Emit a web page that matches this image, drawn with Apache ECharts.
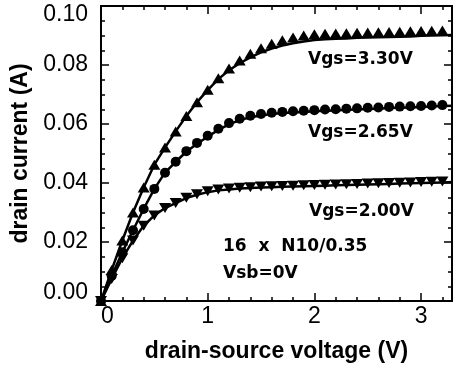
<!DOCTYPE html>
<html><head><meta charset="utf-8">
<script src="https://cdn.jsdelivr.net/npm/echarts@6/dist/echarts.min.js"></script>
<style>html,body{margin:0;padding:0;background:#fff}#c{width:453px;height:368px}</style>
</head><body><div id="c"></div>
<script>
// drain-source voltage (V)
const vds = [0.0,0.1,0.2,0.3,0.4,0.5,0.6,0.7,0.8,0.9,1.0,1.1,1.2,1.3,1.4,1.5,1.6,1.7,1.8,1.9,2.0,2.1,2.2,2.3,2.4,2.5,2.6,2.7,2.8,2.9,3.0,3.1,3.2,3.3];
// measured drain current (A)
const idVgs330 = [0.0000,0.0105,0.0205,0.0300,0.0385,0.0462,0.0520,0.0575,0.0627,0.0674,0.0716,0.0755,0.0788,0.0815,0.0838,0.0857,0.0872,0.0884,0.0893,0.0900,0.0904,0.0906,0.0907,0.0908,0.0909,0.0910,0.0911,0.0912,0.0913,0.0914,0.0915,0.0916,0.0917,0.0918];
const idVgs265 = [0.0000,0.0085,0.0165,0.0240,0.0312,0.0380,0.0435,0.0472,0.0508,0.0536,0.0560,0.0584,0.0603,0.0618,0.0628,0.0634,0.0638,0.0641,0.0643,0.0645,0.0647,0.0649,0.0650,0.0652,0.0653,0.0655,0.0656,0.0658,0.0659,0.0660,0.0661,0.0663,0.0664,0.0665];
const idVgs200 = [0.0000,0.0075,0.0145,0.0205,0.0255,0.0290,0.0315,0.0332,0.0350,0.0362,0.0372,0.0378,0.0381,0.0384,0.0386,0.0388,0.0389,0.0390,0.0391,0.0392,0.0393,0.0394,0.0395,0.0396,0.0397,0.0398,0.0399,0.0400,0.0401,0.0402,0.0403,0.0404,0.0405,0.0406];
// simulated drain current (A)
const simVgs330 = [0.0000,0.0105,0.0205,0.0300,0.0385,0.0462,0.0520,0.0575,0.0627,0.0674,0.0715,0.0752,0.0782,0.0806,0.0826,0.0843,0.0856,0.0866,0.0874,0.0880,0.0885,0.0887,0.0889,0.0890,0.0892,0.0893,0.0894,0.0895,0.0896,0.0897,0.0899,0.0900,0.0901,0.0902];
const simVgs265 = [0.0000,0.0085,0.0165,0.0240,0.0312,0.0380,0.0435,0.0472,0.0506,0.0533,0.0557,0.0580,0.0599,0.0613,0.0623,0.0629,0.0634,0.0637,0.0639,0.0641,0.0643,0.0645,0.0646,0.0648,0.0649,0.0651,0.0652,0.0654,0.0655,0.0656,0.0658,0.0659,0.0661,0.0662];
const simVgs200 = [0.0000,0.0075,0.0145,0.0205,0.0255,0.0290,0.0315,0.0332,0.0349,0.0360,0.0369,0.0375,0.0378,0.0381,0.0383,0.0385,0.0386,0.0387,0.0388,0.0389,0.0390,0.0391,0.0392,0.0393,0.0394,0.0395,0.0396,0.0397,0.0398,0.0399,0.0400,0.0401,0.0402,0.0403];
// axis ticks
const xMajorTicks = [0,1,2,3];
const xMinorTicks = [0.2,0.4,0.6,0.8,1.2,1.4,1.6,1.8,2.2,2.4,2.6,2.8,3.2];
const xMin = 0, xMax = 3.29;
const yMin = 0, yMax = 0.10, yStep = 0.02;
const yTickLabels = ['0.00','0.02','0.04','0.06','0.08','0.10'];
// annotations
const curveLabels = ['Vgs=3.30V','Vgs=2.65V','Vgs=2.00V'];
const deviceLabels = ['16  x  N10/0.35','Vsb=0V'];

const pts = arr => vds.map((v,i)=>[v, arr[i]]);
const chart = echarts.init(document.getElementById('c'), null, {renderer:'canvas'});
const axisLineStyle = {color:'#000', width:2};
const tickFont = {fontFamily:'Liberation Sans', fontSize:23, color:'#000'};
const nameFont = {fontFamily:'Liberation Sans', fontWeight:'bold', fontSize:23, color:'#000'};

function xAx(pos, ticks, len, labels){
  return {type:'value', position:pos, min:xMin, max:xMax,
    axisLine:{show:true, onZero:false, lineStyle:axisLineStyle},
    axisTick:{show:true, inside:true, length:len, customValues:ticks, lineStyle:{color:'#000', width:1.5}},
    axisLabel: labels ? Object.assign({show:true, customValues:xMajorTicks, margin:4, alignMinLabel:'left', formatter:v=>String(v)}, tickFont) : {show:false},
    splitLine:{show:false},
    name: labels ? 'drain-source voltage (V)' : '',
    nameLocation:'middle', nameGap:39, nameTextStyle:nameFont};
}
function yAx(pos, labels){
  return {type:'value', position:pos, min:yMin, max:yMax, interval:yStep,
    axisLine:{show:true, onZero:false, lineStyle:axisLineStyle},
    axisTick:{show:true, inside:true, length:8, lineStyle:{color:'#000', width:1.5}},
    minorTick:{show:true, splitNumber:4, length:4, lineStyle:{color:'#000', width:1.5}},
    axisLabel: labels ? Object.assign({show:true, margin:13, lineHeight:17, verticalAlignMaxLabel:'top', verticalAlignMinLabel:'bottom',
      formatter:v=>yTickLabels[Math.round(v/yStep)]}, tickFont) : {show:false},
    splitLine:{show:false},
    name: labels ? 'drain current (A)' : '',
    nameLocation:'middle', nameGap:61, nameTextStyle:nameFont};
}

const lineSeries = (arr) => ({type:'line', data:pts(arr), xAxisIndex:0, yAxisIndex:0, showSymbol:false, symbol:'none',
  lineStyle:{color:'#000', width:2.5}, smooth:false, z:2, silent:true});
const markSeries = (arr, sym, size, rot) => ({type:'scatter', data:pts(arr), xAxisIndex:0, yAxisIndex:0,
  symbol:sym, symbolSize:size, symbolRotate:rot, itemStyle:{color:'#000', opacity:1}, z:3, silent:true});

chart.setOption({
  animation:false,
  backgroundColor:'#fff',
  grid:{left:101, right:1, top:6, bottom:66, containLabel:false},
  xAxis:[xAx('bottom', xMajorTicks, 8, true), xAx('bottom', xMinorTicks, 4, false),
         xAx('top', xMajorTicks, 8, false), xAx('top', xMinorTicks, 4, false)],
  yAxis:[yAx('left', true), yAx('right', false)],
  series:[
    lineSeries(simVgs330), lineSeries(simVgs265), lineSeries(simVgs200),
    markSeries(idVgs330, 'triangle', [12,10], 0),
    markSeries(idVgs265, 'circle', 10, 0),
    markSeries(idVgs200, 'triangle', [12,10], 180)
  ],
  graphic:[
    {type:'text', left:308, top:51, style:{text:curveLabels[0], font:'bold 17px "DejaVu Sans"', fill:'#000'}},
    {type:'text', left:308, top:124, style:{text:curveLabels[1], font:'bold 17px "DejaVu Sans"', fill:'#000'}},
    {type:'text', left:309, top:203, style:{text:curveLabels[2], font:'bold 17px "DejaVu Sans"', fill:'#000'}},
    {type:'text', left:223, top:238, style:{text:deviceLabels[0], font:'bold 17px "DejaVu Sans"', fill:'#000'}},
    {type:'text', left:223, top:265, style:{text:deviceLabels[1], font:'bold 17px "DejaVu Sans"', fill:'#000'}}
  ]
});
</script></body></html>
